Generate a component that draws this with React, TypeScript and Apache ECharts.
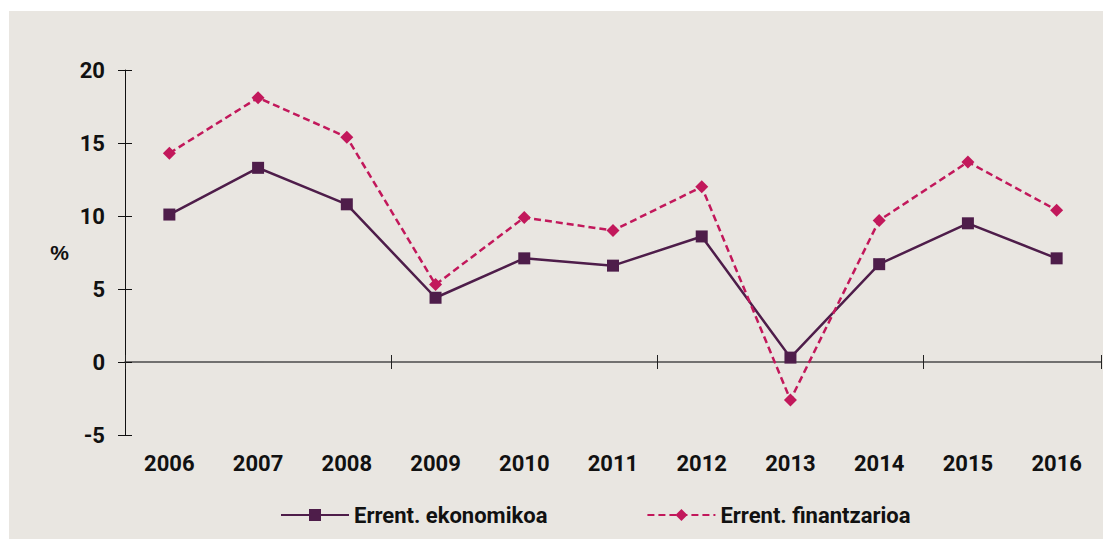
import React, { useEffect, useRef } from "react";
import * as echarts from "echarts";

const years = ["2006", "2007", "2008", "2009", "2010", "2011", "2012", "2013", "2014", "2015", "2016"];
const ekonomikoa = [10.1, 13.3, 10.8, 4.4, 7.1, 6.6, 8.6, 0.3, 6.7, 9.5, 7.1];
const finantzarioa = [14.3, 18.1, 15.4, 5.3, 9.9, 9.0, 12.0, -2.6, 9.7, 13.7, 10.4];
const seriesNames = ["Errent. ekonomikoa", "Errent. finantzarioa"];
const unitLabel = "%";

const FONT = "Roboto";
const PURPLE = "#4E1D4A";
const CRIMSON = "#C2185B";
const BG = "#E9E6E1";

export default function App() {
  const ref = useRef<HTMLDivElement>(null);
  useEffect(() => {
    if (!ref.current) return;
    const chart = echarts.init(ref.current, undefined, { renderer: "svg" });
    const yCommon = {
      type: "value",
      min: -5,
      max: 20,
      interval: 5,
      position: "left",
      splitLine: { show: false },
    };
    const xCommon = {
      type: "category",
      data: years,
      boundaryGap: true,
      position: "bottom",
    };
    chart.setOption({
      animation: false,
      backgroundColor: BG,
      textStyle: { fontFamily: FONT },
      grid: { left: 116, top: 59, right: 2, bottom: 104 },
      xAxis: [
        {
          ...xCommon,
          axisLine: { show: false, onZero: false },
          axisTick: { show: false },
          axisLabel: { show: true, margin: 17, color: "#111", fontSize: 22, fontWeight: "bold", fontFamily: FONT },
        },
        {
          ...xCommon,
          axisLine: { show: true, onZero: true, lineStyle: { color: "#4a4a4a", width: 1.5 } },
          axisTick: { show: true, interval: 2, length: 7, inside: false, lineStyle: { color: "#222", width: 1 } },
          axisLabel: { show: false },
        },
        {
          ...xCommon,
          axisLine: { show: false, onZero: true },
          axisTick: { show: true, interval: 2, length: 7, inside: true, lineStyle: { color: "#222", width: 1 } },
          axisLabel: { show: false },
        },
      ],
      yAxis: [
        {
          ...yCommon,
          axisLine: { show: true, onZero: false, lineStyle: { color: "#111", width: 1 } },
          axisTick: { show: true, length: 7, inside: false, lineStyle: { color: "#111", width: 1 } },
          axisLabel: { margin: 20, color: "#111", fontSize: 22, fontWeight: "bold", fontFamily: FONT },
        },
        {
          ...yCommon,
          name: unitLabel,
          nameLocation: "middle",
          nameRotate: 0,
          nameGap: 56,
          nameTextStyle: {
            fontSize: 21,
            fontWeight: "bold",
            color: "#111",
            fontFamily: "Liberation Sans",
            padding: [12, 0, 0, 0],
          },
          axisLine: { show: false, onZero: false },
          axisTick: { show: true, length: 7, inside: true, lineStyle: { color: "#111", width: 1 } },
          axisLabel: { show: false },
        },
      ],
      legend: {
        left: 266,
        top: 488,
        itemWidth: 68,
        itemHeight: 15,
        itemGap: 99,
        textStyle: { fontSize: 22, fontWeight: "bold", color: "#111", fontFamily: FONT },
        data: seriesNames,
      },
      series: [
        {
          name: seriesNames[0],
          type: "line",
          data: ekonomikoa,
          xAxisIndex: 0,
          yAxisIndex: 0,
          symbol: "rect",
          symbolSize: 12,
          itemStyle: { color: PURPLE },
          lineStyle: { color: PURPLE, width: 2.5 },
          z: 3,
        },
        {
          name: seriesNames[1],
          type: "line",
          data: finantzarioa,
          xAxisIndex: 0,
          yAxisIndex: 0,
          symbol: "diamond",
          symbolSize: 13,
          itemStyle: { color: CRIMSON },
          lineStyle: { color: CRIMSON, width: 2.5, type: [7, 4] },
          z: 4,
        },
      ],
    });
    return () => chart.dispose();
  }, []);
  return (
    <div
      ref={ref}
      style={{ position: "fixed", left: 9, top: 11, width: 1094, height: 528 }}
    />
  );
}
